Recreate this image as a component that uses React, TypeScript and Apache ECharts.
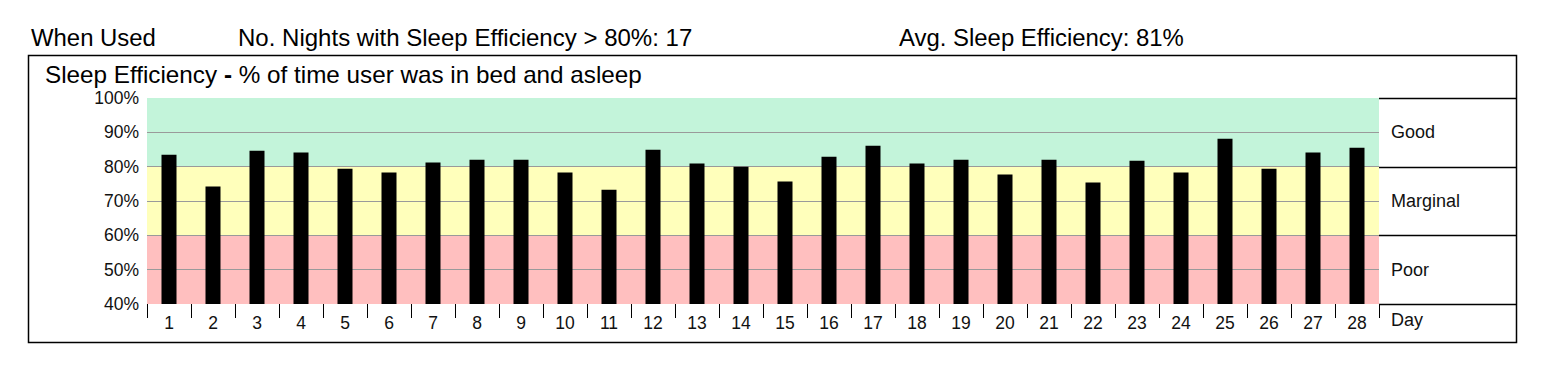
import React, { useEffect, useRef } from "react";
import * as echarts from "echarts";

const days: string[] = Array.from({ length: 28 }, (_, i) => String(i + 1));
const efficiency: number[] = [
  83.5, 74.2, 84.6, 84.1, 79.4, 78.3, 81.2, 82.0, 82.0, 78.3,
  73.3, 84.9, 80.9, 80.0, 75.7, 82.9, 86.1, 80.9, 82.0, 77.7,
  82.0, 75.4, 81.7, 78.3, 88.1, 79.4, 84.1, 85.5,
];
const bands = [
  { name: "Good", from: 80, to: 100, color: "#C3F4DA" },
  { name: "Marginal", from: 60, to: 80, color: "#FFFFBB" },
  { name: "Poor", from: 40, to: 60, color: "#FFBFBF" },
];
const gridLineValues: number[] = [50, 60, 70, 80, 90];
const headerTexts = {
  whenUsed: "When Used",
  nights: "No. Nights with Sleep Efficiency > 80%: 17",
  avg: "Avg. Sleep Efficiency: 81%",
};
const chartTitle = "Sleep Efficiency {b|-} % of time user was in bed and asleep";
const dayLabel = "Day";

const FONT = "'Liberation Sans', Arial, Helvetica, sans-serif";

export default function App() {
  const ref = useRef<HTMLDivElement>(null);
  useEffect(() => {
    if (!ref.current) return;
    const chart = echarts.init(ref.current, undefined, { renderer: "svg" });
    const option: any = {
      animation: false,
      textStyle: { fontFamily: FONT },
      grid: { left: 139, top: 90, width: 1232, height: 206, containLabel: false },
      xAxis: {
        type: "category",
        data: days,
        boundaryGap: true,
        axisLine: { show: false },
        axisTick: { show: true, interval: 0, length: 14, lineStyle: { color: "#000", width: 1 } },
        axisLabel: { interval: 0, fontSize: 17.5, color: "#111", margin: 10, fontFamily: FONT },
        splitLine: { show: false },
      },
      yAxis: {
        type: "value",
        min: 40,
        max: 100,
        interval: 10,
        axisLine: { show: false },
        axisTick: { show: false },
        splitLine: { show: false },
        axisLabel: { formatter: "{value}%", fontSize: 17.5, color: "#111", margin: 8, fontFamily: FONT },
      },
      series: [
        {
          type: "bar",
          data: efficiency,
          barWidth: 15,
          z: 10,
          itemStyle: { color: "#000" },
          silent: true,
          markArea: {
            silent: true,
            z: 1,
            data: bands.map((b) => [
              { yAxis: b.from, itemStyle: { color: b.color } },
              { yAxis: b.to },
            ]),
          },
          markLine: {
            silent: true,
            z: 3,
            symbol: "none",
            label: { show: false },
            lineStyle: { color: "#9a9a9a", type: "solid", width: 1 },
            data: gridLineValues.map((v) => ({ yAxis: v })),
          },
        },
      ],
    };
    chart.setOption(option);

    const yOf = (v: number) => chart.convertToPixel({ yAxisIndex: 0 }, v) as number;
    const plotRight = 139 + 1232;
    const boxLeft = 20.5;
    const boxRight = 1508.5;
    const boxTop = 47;
    const boxBottom = 334;
    const panelLines = [100, 80, 60, 40].map((v) => ({
      type: "line",
      silent: true,
      shape: { x1: plotRight, y1: Math.round(yOf(v)) + 0.5, x2: boxRight, y2: Math.round(yOf(v)) + 0.5 },
      style: { stroke: "#000", lineWidth: 1.5 },
    }));
    const panelLabels = bands.map((b) => ({
      type: "text",
      silent: true,
      x: 1383,
      y: yOf((b.from + b.to) / 2),
      style: {
        text: b.name,
        fontSize: 18,
        fontFamily: FONT,
        fill: "#111",
        align: "left",
        verticalAlign: "middle",
      },
    }));
    const headerStyle = (text: string) => ({
      text,
      fontSize: 23,
      fontFamily: FONT,
      fill: "#000",
      align: "left",
      verticalAlign: "middle",
    });
    chart.setOption({
      graphic: [
        {
          type: "rect",
          silent: true,
          shape: { x: boxLeft, y: boxTop + 0.5, width: boxRight - boxLeft, height: boxBottom - boxTop },
          style: { fill: "none", stroke: "#000", lineWidth: 1.5 },
        },
        ...panelLines,
        ...panelLabels,
        {
          type: "text",
          silent: true,
          x: 1383,
          y: yOf(40) + 16,
          style: {
            text: dayLabel,
            fontSize: 18,
            fontFamily: FONT,
            fill: "#111",
            align: "left",
            verticalAlign: "middle",
          },
        },
        { type: "text", silent: true, x: 23, y: 30, scaleX: 1.04, style: headerStyle(headerTexts.whenUsed) },
        { type: "text", silent: true, x: 230, y: 30, scaleX: 1.045, style: headerStyle(headerTexts.nights) },
        { type: "text", silent: true, x: 891, y: 30, scaleX: 1.04, style: headerStyle(headerTexts.avg) },
        {
          type: "text",
          silent: true,
          x: 37,
          y: 67,
          scaleX: 1.055,
          style: {
            ...headerStyle(chartTitle),
            rich: {
              b: { fontSize: 23, fontWeight: "bold", fontFamily: FONT, fill: "#000" },
            },
          },
        },
      ],
    });

    return () => chart.dispose();
  }, []);
  return <div ref={ref} style={{ width: 1536, height: 355 }} />;
}
